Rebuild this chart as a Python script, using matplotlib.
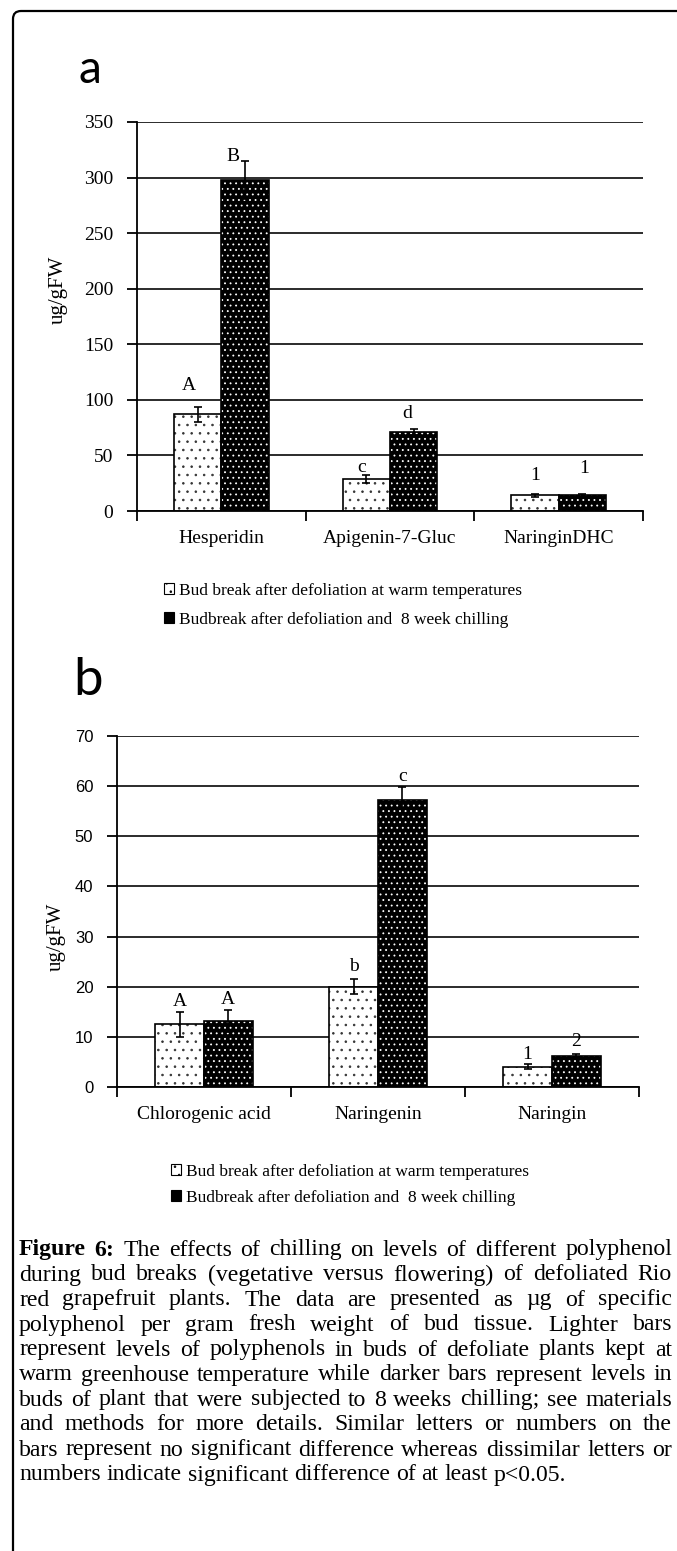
import numpy as np
import matplotlib
matplotlib.use("Agg")
import matplotlib.pyplot as plt
import matplotlib.patches as mpatches
from matplotlib.path import Path

W, H, DPI = 677, 1551, 100

# panel a
CATS_A = ["Hesperidin", "Apigenin-7-Gluc", "NaringinDHC"]
WARM_A = [87, 29, 14]
WARM_A_ERR = [7, 3.5, 1.5]
CHILL_A = [298, 71, 14]
CHILL_A_ERR = [17, 3, 1]
LET_WARM_A = ["A", "c", "1"]
LET_CHILL_A = ["B", "d", "1"]
LET_WARM_A_Y = [113, 39, 32]
LET_CHILL_A_Y = [319, 88, 38]

# panel b
CATS_B = ["Chlorogenic acid", "Naringenin", "Naringin"]
WARM_B = [12.5, 20, 4]
WARM_B_ERR = [2.5, 1.5, 0.5]
CHILL_B = [13.2, 57.2, 6.2]
CHILL_B_ERR = [2.2, 2.7, 0.3]
LET_WARM_B = ["A", "b", "1"]
LET_CHILL_B = ["A", "c", "2"]
LET_WARM_B_Y = [17, 24, 6.4]
LET_CHILL_B_Y = [17.5, 62, 9]

LEGEND_LABELS_A = ["Bud break after defoliation at warm temperatures",
                   "Budbreak after defoliation and  8 week chilling"]
LEGEND_LABELS_B = LEGEND_LABELS_A

CAPTION = [
    "Figure 6: The effects of chilling on levels of different polyphenol",
    "during bud breaks (vegetative versus flowering) of defoliated Rio",
    "red grapefruit plants. The data are presented as µg of specific",
    "polyphenol per gram fresh weight of bud tissue. Lighter bars",
    "represent levels of polyphenols in buds of defoliate plants kept at",
    "warm greenhouse temperature while darker bars represent levels in",
    "buds of plant that were subjected to 8 weeks chilling; see materials",
    "and methods for more details. Similar letters or numbers on the",
    "bars represent no significant difference whereas dissimilar letters or",
    "numbers indicate significant difference of at least p<0.05.",
]

SERIF = "Liberation Serif"
plt.rcParams["hatch.linewidth"] = 0.6
BW = 0.28


def draw_panel(ax, cats, warm, warm_err, chill, chill_err, ymax, step,
               let_w, let_w_y, let_c, let_c_y, dx_w, dx_c, tick_font):
    x = np.arange(len(cats))
    xw = x - BW / 2
    xc = x + BW / 2
    ax.bar(xw, warm, BW, color="white", edgecolor="#333333", hatch="..", linewidth=0, zorder=2)
    ax.bar(xw, warm, BW, fill=False, edgecolor="black", linewidth=1.2, zorder=3)
    ax.bar(xc, chill, BW, color="black", edgecolor="white", hatch="...", linewidth=0, zorder=2)
    ax.bar(xc, chill, BW, fill=False, edgecolor="black", linewidth=1.2, zorder=3)
    ax.errorbar(xw, warm, yerr=warm_err, fmt="none", ecolor="black", elinewidth=1.2,
                capsize=3, capthick=1.2, zorder=4)
    ax.errorbar(xc, chill, yerr=chill_err, fmt="none", ecolor="black", elinewidth=1.2,
                capsize=3, capthick=1.2, zorder=4)
    for i in range(len(cats)):
        ax.text(xw[i] + dx_w[i], let_w_y[i], let_w[i], ha="center", va="center",
                fontsize=14, family=SERIF)
        ax.text(xc[i] + dx_c[i], let_c_y[i], let_c[i], ha="center", va="center",
                fontsize=14, family=SERIF)

    ax.set_xlim(-0.5, len(cats) - 0.5)
    ax.set_ylim(0, ymax)
    ax.set_yticks(np.arange(0, ymax + step, step))
    ax.yaxis.grid(True, color="#1a1a1a", linewidth=1.3)
    ax.set_axisbelow(True)
    for s in ["top", "right"]:
        ax.spines[s].set_visible(False)
    ax.spines["left"].set_linewidth(1.3)
    ax.spines["bottom"].set_linewidth(1.3)
    ax.tick_params(axis="y", length=7, width=1.3, pad=10)
    for lab in ax.get_yticklabels():
        lab.set_family(tick_font[0])
        lab.set_fontsize(tick_font[1])
    ax.set_xticks(x)
    ax.set_xticklabels(cats, family=SERIF, fontsize=14)
    ax.set_xticks(np.arange(-0.5, len(cats)), minor=True)
    ax.tick_params(axis="x", which="major", length=0, pad=14)
    ax.tick_params(axis="x", which="minor", length=7, width=1.3)


fig = plt.figure(figsize=(W / DPI, H / DPI), dpi=DPI)

bg = fig.add_axes([0, 0, 1, 1], zorder=-5)
bg.set_xlim(0, W)
bg.set_ylim(H, 0)
bg.axis("off")
frame = Path([(13, H + 5), (13, 19), (13, 11), (21, 11), (W + 5, 11)],
             [Path.MOVETO, Path.LINETO, Path.CURVE3, Path.CURVE3, Path.LINETO])
bg.add_patch(mpatches.PathPatch(frame, fill=False, edgecolor="black", linewidth=1.6))

# panel a
ax_a = fig.add_axes([137 / W, 1 - 511 / H, 506 / W, 389 / H])
draw_panel(ax_a, CATS_A, WARM_A, WARM_A_ERR, CHILL_A, CHILL_A_ERR, 350, 50,
           LET_WARM_A, LET_WARM_A_Y, LET_CHILL_A, LET_CHILL_A_Y,
           [-0.05, -0.03, 0.0], [-0.07, -0.04, 0.01], (SERIF, 14))
ax_a.set_ylabel("ug/gFW", family=SERIF, fontsize=15)
ax_a.yaxis.set_label_coords((68 - 137) / 506, (511 - 290) / 389)

# panel b
ax_b = fig.add_axes([117 / W, 1 - 1087 / H, 522 / W, 351 / H])
draw_panel(ax_b, CATS_B, WARM_B, WARM_B_ERR, CHILL_B, CHILL_B_ERR, 70, 10,
           LET_WARM_B, LET_WARM_B_Y, LET_CHILL_B, LET_CHILL_B_Y,
           [0, 0, 0], [0, 0, 0], ("Liberation Sans", 12))
ax_b.set_ylabel("ug/gFW", family=SERIF, fontsize=15)
ax_b.yaxis.set_label_coords((66 - 117) / 522, (1087 - 937) / 351)

# panel letters
bg.text(90, 83, "a", fontsize=33, family="Lato", ha="center", va="baseline")
bg.text(88, 695, "b", fontsize=38, family="Lato", ha="center", va="baseline")

# legends
h_light = mpatches.Patch(facecolor="white", edgecolor="black", hatch="..", linewidth=0.8)
h_dark = mpatches.Patch(facecolor="black", edgecolor="black", linewidth=0.8)
fig.legend([h_light, h_dark], LEGEND_LABELS_A, loc="upper left",
           bbox_to_anchor=(155 / W, 1 - 574 / H), frameon=False, borderpad=0,
           handlelength=0.6, handleheight=0.6, handletextpad=0.3, labelspacing=0.75,
           prop={"family": SERIF, "size": 12.5})
fig.legend([h_light, h_dark], LEGEND_LABELS_B, loc="upper left",
           bbox_to_anchor=(162 / W, 1 - 1155 / H), frameon=False, borderpad=0,
           handlelength=0.6, handleheight=0.6, handletextpad=0.3, labelspacing=0.6,
           prop={"family": SERIF, "size": 12.5})

# justified caption
renderer = fig.canvas.get_renderer()
LEFT, RIGHT, TOP, LINE_H = 19, 672, 1250, 25


def word_width(word, size, bold):
    t = bg.text(0, 0, word, fontsize=size, family=SERIF,
                fontweight="bold" if bold else "normal")
    w = t.get_window_extent(renderer).width
    t.remove()
    return w


size = 12.0
space = word_width("a b", size, False) - word_width("ab", size, False)
longest = max(sum(word_width(w, size, False) for w in ln.split()) + space * (len(ln.split()) - 1)
              for ln in CAPTION)
size = size * (RIGHT - LEFT) * 0.985 / longest
space = word_width("a b", size, False) - word_width("ab", size, False)

for li, line in enumerate(CAPTION):
    words = line.split()
    bolds = [li == 0 and wi < 2 for wi in range(len(words))]
    widths = [word_width(w, size, b) for w, b in zip(words, bolds)]
    if li < len(CAPTION) - 1:
        gap = (RIGHT - LEFT - sum(widths)) / (len(words) - 1)
    else:
        gap = space
    xpos = LEFT
    y = TOP + li * LINE_H
    for w, b, wd in zip(words, bolds, widths):
        bg.text(xpos, y, w, fontsize=size, family=SERIF, va="center", ha="left",
                fontweight="bold" if b else "normal")
        xpos += wd + gap

fig.savefig("out.png", dpi=DPI)
